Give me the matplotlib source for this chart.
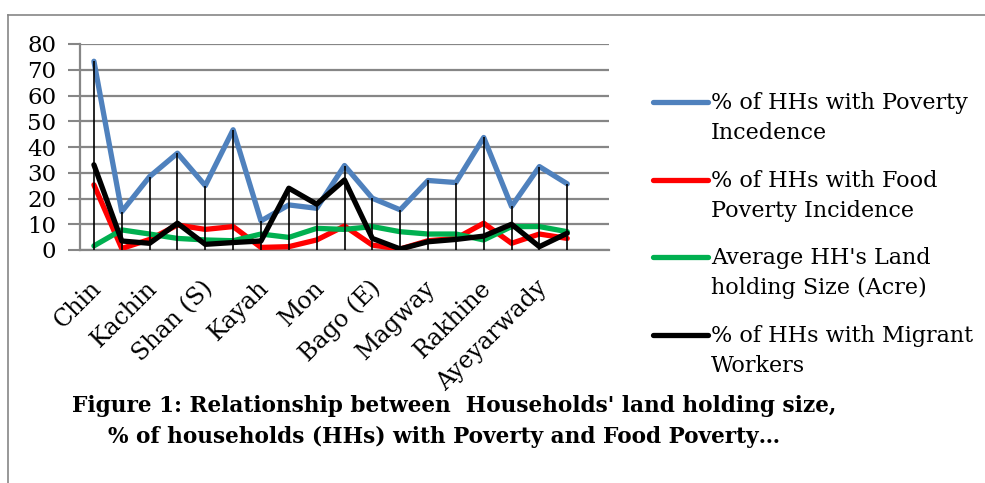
import numpy as np
import matplotlib.pyplot as plt
import matplotlib.transforms as mtransforms
from matplotlib.lines import Line2D

# 18 categories, only every second one is labelled in the source chart
regions = ["Chin", "", "Kachin", "", "Shan (S)", "", "Kayah", "", "Mon", "",
           "Bago (E)", "", "Magway", "", "Rakhine", "", "Ayeyarwady", ""]

poverty = [73.3, 14.9, 28.5, 37.6, 25.0, 46.7, 11.3, 17.5, 16.2, 32.8,
           20.1, 15.6, 27.0, 26.2, 43.7, 16.9, 32.4, 25.7]
food_poverty = [25.3, 0.6, 4.1, 9.7, 8.0, 9.1, 1.0, 1.3, 3.9, 9.3,
                1.9, 0.4, 3.6, 4.5, 10.4, 2.6, 6.2, 4.5]
land_size = [1.6, 7.8, 6.2, 4.5, 3.9, 3.6, 6.2, 4.9, 8.4, 8.0,
             9.1, 7.1, 6.2, 6.2, 3.9, 9.1, 9.1, 7.1]
migrant = [33.1, 3.5, 2.6, 10.4, 2.2, 2.9, 3.5, 24.0, 17.8, 27.2,
           4.5, 0.4, 3.2, 4.1, 5.4, 10.0, 1.3, 6.5]

series_names = ["% of HHs with Poverty\nIncedence",
                "% of HHs with Food\nPoverty Incidence",
                "Average HH's Land\nholding Size (Acre)",
                "% of HHs with Migrant\nWorkers"]
colors = ["#4F81BD", "#FF0000", "#00B050", "#000000"]

plt.rcParams['font.family'] = ['DejaVu Serif']

W, H = 985, 483
fig = plt.figure(figsize=(W/100, H/100), dpi=100)
ax = fig.add_axes([80/W, 1-250/H, (609-80)/W, (250-44)/H])

x = np.arange(len(regions))
all_series = [poverty, food_poverty, land_size, migrant]
for vals, c in zip(all_series, colors):
    ax.plot(x, vals, color=c, lw=3.8, solid_capstyle='round', zorder=3)

# drop lines from the highest series down to the axis
top = np.max(all_series, axis=0)
ax.vlines(x, 0, top, color='black', lw=1.2, zorder=4)

ax.set_xlim(-0.5, 18.5)
ax.set_ylim(0, 80)
ax.set_yticks(range(0, 81, 10))
ax.set_xticks(x[::2])
ax.set_xticklabels(regions[::2], rotation=45, ha='right', rotation_mode='anchor', fontsize=17)
ax.tick_params(axis='x', length=0, pad=19)
shift = mtransforms.ScaledTranslation(-4/100, 0, fig.dpi_scale_trans)
for lab in ax.get_xticklabels():
    lab.set_transform(lab.get_transform() + shift)
ax.tick_params(axis='y', length=9, width=1.5, color='#868686', labelsize=16.5, pad=8)
ax.grid(axis='y', color='#868686', lw=1.6)
ax.set_axisbelow(True)
for s in ['top', 'right']:
    ax.spines[s].set_visible(False)
for s in ['left', 'bottom']:
    ax.spines[s].set_color('#868686')
    ax.spines[s].set_linewidth(1.6)

# legend, drawn by hand so the key sits on the first text line like Excel does
leg_y = [102, 180, 257, 335]
for name, c, yc in zip(series_names, colors, leg_y):
    fig.add_artist(Line2D([653/W, 708/W], [1-yc/H, 1-yc/H], color=c, lw=3.8,
                          solid_capstyle='round'))
    for i, line in enumerate(name.split("\n")):
        fig.text(711/W, 1-(yc + 7 + 30*i)/H, line, fontsize=16, va='baseline', ha='left')

fig.text(72/W, 1-(405+7)/H, "Figure 1: Relationship between  Households' land holding size,",
         fontsize=15.6, fontweight='bold', va='baseline', ha='left')
fig.text(108/W, 1-(436+7)/H, "% of households (HHs) with Poverty and Food Poverty…",
         fontsize=15.6, fontweight='bold', va='baseline', ha='left')

# outer chart frame
fig.add_artist(Line2D([8/W, 8/W], [0, 1-15/H], color='#868686', lw=1.2))
fig.add_artist(Line2D([8/W, 1], [1-15/H, 1-15/H], color='#868686', lw=1.2))

fig.savefig("out.png", dpi=100)
